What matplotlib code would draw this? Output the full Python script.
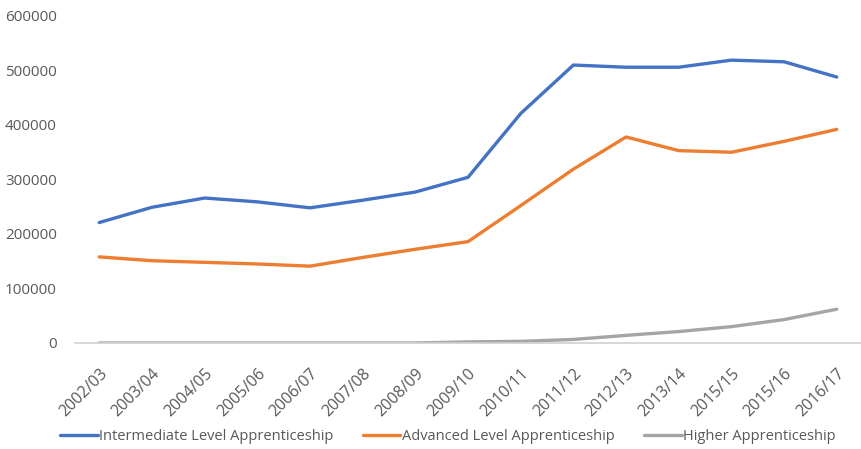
import matplotlib
matplotlib.use("Agg")
import matplotlib.pyplot as plt

years = ["2002/03", "2003/04", "2004/05", "2005/06", "2006/07", "2007/08", "2008/09",
         "2009/10", "2010/11", "2011/12", "2012/13", "2013/14", "2015/15", "2015/16", "2016/17"]
intermediate = [221000, 249000, 266000, 259000, 248000, 262000, 277000,
                304000, 421000, 510000, 506000, 506000, 519000, 516000, 488000]
advanced = [158000, 151000, 148000, 145000, 141000, 157000, 172000,
            186000, 252000, 319000, 378000, 353000, 350000, 370000, 392000]
higher = [0, 0, 0, 0, 0, 0, 0,
          2000, 3000, 6500, 14000, 21000, 30000, 43000, 62000]
yticks = [0, 100000, 200000, 300000, 400000, 500000, 600000]

plt.rcParams['font.family'] = ['Open Sans', 'DejaVu Sans']
txt = '#595959'

fig = plt.figure(figsize=(8.61, 4.49), dpi=100)
ax = fig.add_axes([75/861, (449-343)/449, (861-75)/861, (343-16)/449])
x = list(range(len(years)))
ax.plot(x, intermediate, color='#4472C4', lw=2.4, label='Intermediate Level Apprenticeship', solid_capstyle='round')
ax.plot(x, advanced, color='#ED7D31', lw=2.4, label='Advanced Level Apprenticeship', solid_capstyle='round')
ax.plot(x, higher, color='#A5A5A5', lw=2.4, label='Higher Apprenticeship', solid_capstyle='round')

ax.set_xlim(-0.46, 14.46)
ax.set_ylim(0, 600000)
ax.set_yticks(yticks)
ax.set_yticklabels([str(v) for v in yticks], fontsize=11, color=txt)
ax.set_xticks(x)
ax.set_xticklabels(years, rotation=45, ha='right', rotation_mode='anchor', fontsize=11.5, color=txt)
for s in ['top', 'right', 'left']:
    ax.spines[s].set_visible(False)
ax.spines['bottom'].set_color('#D0D0D0')
ax.spines['bottom'].set_linewidth(1.2)
ax.tick_params(axis='both', length=0)
ax.tick_params(axis='y', pad=13)
ax.tick_params(axis='x', pad=16)
ax.set_facecolor('white')

leg = fig.legend(loc='center', bbox_to_anchor=(0.52, 1 - 437/449), ncol=3, frameon=False,
                 fontsize=10.5, handlelength=2.6, handletextpad=0.1, columnspacing=2.0)
for t in leg.get_texts():
    t.set_color(txt)

fig.savefig('out.png', dpi=100, facecolor='white')
